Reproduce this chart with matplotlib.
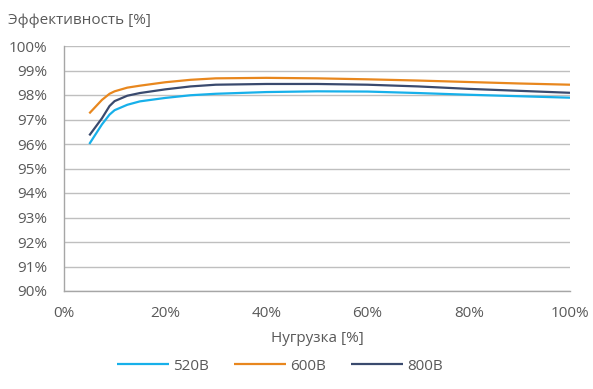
import matplotlib.pyplot as plt
from matplotlib.ticker import FuncFormatter

# load, %
load = [5, 7.5, 9, 10, 12.5, 15, 20, 25, 30, 40, 50, 60, 70, 80, 90, 100]

# efficiency, %
eff_520 = [96.0, 96.8, 97.2, 97.38, 97.6, 97.74, 97.88, 97.99, 98.05, 98.12, 98.15, 98.14, 98.08, 98.01, 97.95, 97.89]
eff_600 = [97.25, 97.8, 98.05, 98.15, 98.3, 98.38, 98.52, 98.62, 98.68, 98.70, 98.68, 98.64, 98.59, 98.53, 98.47, 98.42]
eff_800 = [96.35, 97.05, 97.55, 97.75, 97.97, 98.08, 98.23, 98.35, 98.42, 98.45, 98.45, 98.42, 98.35, 98.25, 98.17, 98.09]

labels = ['520В', '600В', '800В']
colors = ['#17b0ea', '#e8871e', '#3a4a6e']

plt.rcParams['font.family'] = ['Open Sans', 'DejaVu Sans']
text_color = '#595959'
fs = 11

fig = plt.figure(figsize=(5.93, 3.89), dpi=100)
ax = fig.add_axes([64 / 593, 1 - 291 / 389, 506 / 593, 245 / 389])

for y, lab, c in zip([eff_520, eff_600, eff_800], labels, colors):
    ax.plot(load, y, color=c, lw=1.6, label=lab, solid_capstyle='butt',
            solid_joinstyle='round')

ax.set_xlim(0, 100)
ax.set_ylim(90, 100)
ax.set_xticks(range(0, 101, 20))
ax.set_yticks(range(90, 101))
ax.xaxis.set_major_formatter(FuncFormatter(lambda v, p: f'{v:.0f}%'))
ax.yaxis.set_major_formatter(FuncFormatter(lambda v, p: f'{v:.0f}%'))
ax.grid(axis='y', color='#bfbfbf', lw=1)
ax.set_axisbelow(True)

for s in ['top', 'right']:
    ax.spines[s].set_visible(False)
for s in ['left', 'bottom']:
    ax.spines[s].set_color('#a6a6a6')
    ax.spines[s].set_linewidth(1)

ax.tick_params(length=0, labelsize=fs, colors=text_color)
ax.tick_params(axis='x', pad=11)
ax.tick_params(axis='y', pad=12)

fig.text(8 / 593, 1 - 20 / 389, 'Эффективность [%]', fontsize=fs,
         color=text_color, va='center', ha='left')
fig.text(317 / 593, 1 - 338 / 389, 'Нугрузка [%]', fontsize=fs,
         color=text_color, va='center', ha='center')

fig.legend(loc='center', bbox_to_anchor=(280 / 593, 1 - 366 / 389), ncol=3,
           frameon=False, fontsize=fs, handlelength=3.4, handletextpad=0.3,
           columnspacing=1.6, labelcolor=text_color)

fig.savefig('out.png', dpi=100)
